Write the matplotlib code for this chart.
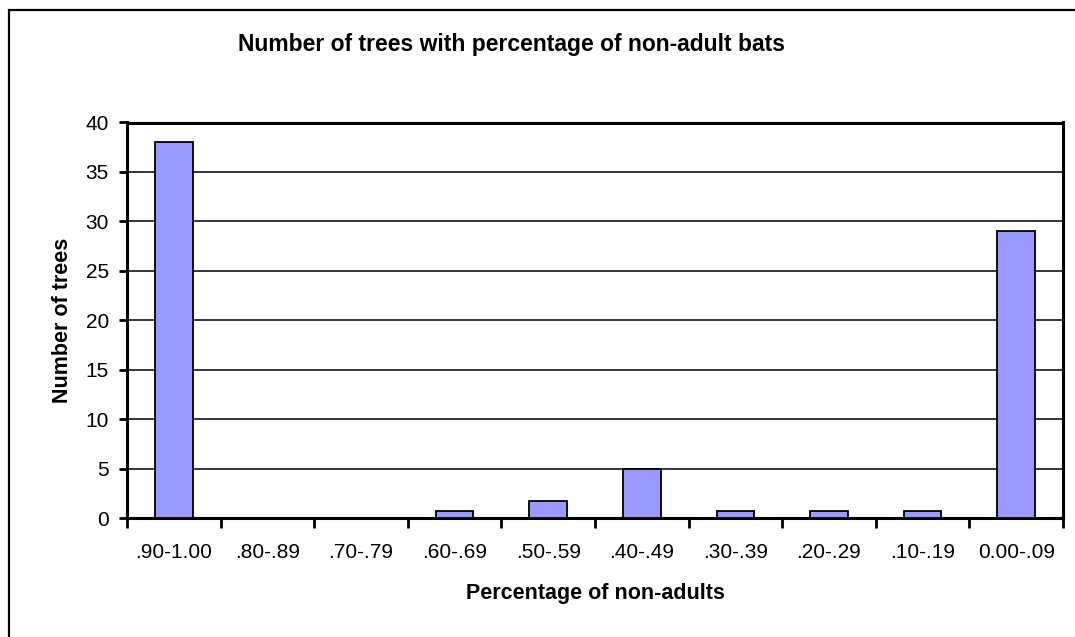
import matplotlib
matplotlib.use("Agg")
import matplotlib.pyplot as plt
from matplotlib.patches import Rectangle
from matplotlib.ticker import FixedLocator, MultipleLocator

plt.rcParams['font.family'] = ['Liberation Sans', 'DejaVu Sans']

categories = [".90-1.00", ".80-.89", ".70-.79", ".60-.69", ".50-.59",
              ".40-.49", ".30-.39", ".20-.29", ".10-.19", "0.00-.09"]
tree_counts = [38, 0, 0, 0.75, 1.75, 5, 0.75, 0.75, 0.75, 29]

title = "Number of trees with percentage of non-adult bats"
x_label = "Percentage of non-adults"
y_label = "Number of trees"

W, H = 1075, 637
fig = plt.figure(figsize=(W / 100, H / 100), dpi=100)
fig.patch.set_facecolor("white")

# chart-area frame (runs off the right and bottom edges)
fig.add_artist(Rectangle((9 / W, -0.05), 1.2, 1 - 10 / H + 0.05,
                         transform=fig.transFigure, fill=False,
                         edgecolor="black", linewidth=1.6))

left, right = 127 / W, 1063 / W
bottom, top = 1 - 518 / H, 1 - 122.5 / H
ax = fig.add_axes([left, bottom, right - left, top - bottom])

x = list(range(len(categories)))
ax.bar(x, tree_counts, width=0.4, color="#9999FF", edgecolor="black",
       linewidth=1.3, zorder=3)

ax.set_xlim(-0.5, len(categories) - 0.5)
ax.set_ylim(0, 40)
ax.yaxis.set_major_locator(MultipleLocator(5))
ax.grid(axis="y", color="black", linewidth=1.1, zorder=0)

# category labels at centres, tick marks at category boundaries
ax.set_xticks(x)
ax.set_xticklabels(categories, fontsize=15)
ax.tick_params(axis="x", which="major", length=0, pad=18)
ax.xaxis.set_minor_locator(FixedLocator([i - 0.5 for i in range(len(categories) + 1)]))
ax.tick_params(axis="x", which="minor", length=7, width=2, direction="out")
ax.tick_params(axis="y", length=6, width=2, direction="out", pad=7, labelsize=15)

for s in ax.spines.values():
    s.set_linewidth(2.2)
    s.set_color("black")

ax.set_xlabel(x_label, fontsize=15.5, fontweight="bold", labelpad=15)
ax.set_ylabel(y_label, fontsize=15.5, fontweight="bold")
ax.yaxis.set_label_coords(-0.058, 0.5)

fig.text(512 / W, 1 - 44 / H, title, ha="center", va="center",
         fontsize=16.5, fontweight="bold")

fig.savefig("out.png", dpi=100, facecolor="white")
